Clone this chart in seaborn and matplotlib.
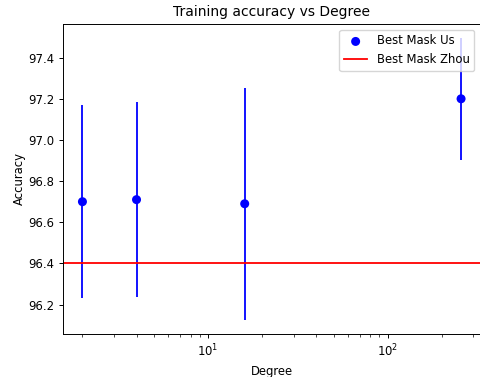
import numpy as np
import pandas as pd
import matplotlib
matplotlib.use('Agg')
import matplotlib.pyplot as plt
import seaborn as sns

# values
degree = [2, 4, 16, 256]
acc_us = [96.70, 96.71, 96.69, 97.20]
acc_err = [0.47, 0.475, 0.563, 0.295]
acc_zhou = 96.4

df = pd.DataFrame({'Degree': degree, 'Accuracy': acc_us, 'err': acc_err})

plt.rcParams['font.family'] = ['DejaVu Sans']
fig = plt.figure(figsize=(4.81, 3.77), dpi=100)
ax = fig.add_axes([63.5 / 481, (377 - 333.7) / 377, (480 - 63.5) / 481, (333.7 - 24) / 377])

ax.errorbar(df['Degree'], df['Accuracy'], yerr=df['err'], fmt='none', ecolor='blue', elinewidth=1.3)
sns.scatterplot(data=df, x='Degree', y='Accuracy', color='blue', s=42, edgecolor='none',
                label='Best Mask Us', ax=ax, zorder=3)
ax.axhline(acc_zhou, color='red', linewidth=1.3, label='Best Mask Zhou')
ax.set_xscale('log')

ax.set_title('Training accuracy vs Degree', fontsize=10)
ax.set_xlabel('Degree', fontsize=8.4)
ax.set_ylabel('Accuracy', fontsize=8.4, labelpad=2)
ax.tick_params(labelsize=8.4, width=0.7, length=3)
ax.tick_params(which='minor', width=0.5, length=2)
for s in ax.spines.values():
    s.set_linewidth(0.7)
ax.legend(loc='upper right', fontsize=8.4)

fig.savefig('out.png', dpi=100)
